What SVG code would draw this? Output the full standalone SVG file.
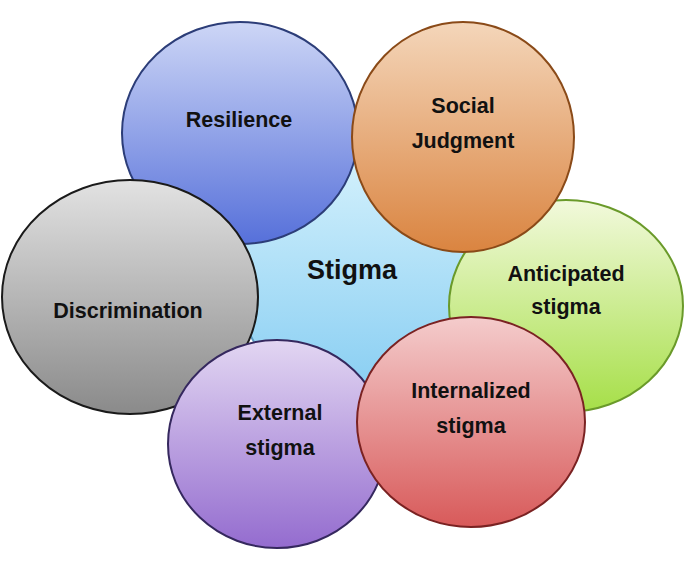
<svg xmlns="http://www.w3.org/2000/svg" width="700" height="565" viewBox="0 0 700 565">
<defs>
<linearGradient id="gCenter" x1="0" y1="0" x2="0" y2="1"><stop offset="0" stop-color="#d2f0fc"/><stop offset="1" stop-color="#86cdf2"/></linearGradient>
<linearGradient id="gBlue" x1="0" y1="0" x2="0" y2="1"><stop offset="0" stop-color="#cdd6f6"/><stop offset="1" stop-color="#5670da"/></linearGradient>
<linearGradient id="gGray" x1="0" y1="0" x2="0" y2="1"><stop offset="0" stop-color="#e2e2e2"/><stop offset="1" stop-color="#8a8a8a"/></linearGradient>
<linearGradient id="gPurple" x1="0" y1="0" x2="0" y2="1"><stop offset="0" stop-color="#e2d6f2"/><stop offset="1" stop-color="#946ccf"/></linearGradient>
<linearGradient id="gGreen" x1="0" y1="0" x2="0" y2="1"><stop offset="0" stop-color="#f2f9dc"/><stop offset="1" stop-color="#a6df48"/></linearGradient>
<linearGradient id="gOrange" x1="0" y1="0" x2="0" y2="1"><stop offset="0" stop-color="#f4d6ba"/><stop offset="1" stop-color="#da8440"/></linearGradient>
<linearGradient id="gRed" x1="0" y1="0" x2="0" y2="1"><stop offset="0" stop-color="#f4cccc"/><stop offset="1" stop-color="#d85a5a"/></linearGradient>
</defs>
<style>
.c{stroke-width:2}
text{font-family:"Liberation Sans",Arial,sans-serif;font-weight:bold;fill:#111;text-anchor:middle}
.t{font-size:21.5px}
.s{font-size:27px}
</style>
<rect width="700" height="565" fill="#ffffff"/>
<g id="stigma">
<ellipse class="c" cx="355" cy="280" rx="118" ry="120" fill="url(#gCenter)" stroke="#5a9ac0"/>
<text class="s" x="352" y="279">Stigma</text>
</g>
<g id="resilience">
<ellipse class="c" cx="240" cy="133" rx="118" ry="111" fill="url(#gBlue)" stroke="#2c3d78"/>
<text class="t" x="239" y="127">Resilience</text>
</g>
<g id="discrimination">
<ellipse class="c" cx="130" cy="297" rx="128" ry="117" fill="url(#gGray)" stroke="#1a1a1a"/>
<text class="t" x="128" y="318">Discrimination</text>
</g>
<g id="external">
<ellipse class="c" cx="277" cy="444" rx="109" ry="104" fill="url(#gPurple)" stroke="#35285e"/>
<text class="t" x="280" y="420">External</text>
<text class="t" x="280" y="455">stigma</text>
</g>
<g id="anticipated">
<ellipse class="c" cx="566" cy="306" rx="117" ry="106" fill="url(#gGreen)" stroke="#6a9a2a"/>
<text class="t" x="566" y="281">Anticipated</text>
<text class="t" x="566" y="314">stigma</text>
</g>
<g id="social">
<ellipse class="c" cx="463" cy="137" rx="111" ry="115" fill="url(#gOrange)" stroke="#8a4a18"/>
<text class="t" x="463" y="113">Social</text>
<text class="t" x="463" y="148">Judgment</text>
</g>
<g id="internalized">
<ellipse class="c" cx="471" cy="422" rx="114" ry="105" fill="url(#gRed)" stroke="#7a2222"/>
<text class="t" x="471" y="398">Internalized</text>
<text class="t" x="471" y="433">stigma</text>
</g>
<g id="connectors"></g>
</svg>
